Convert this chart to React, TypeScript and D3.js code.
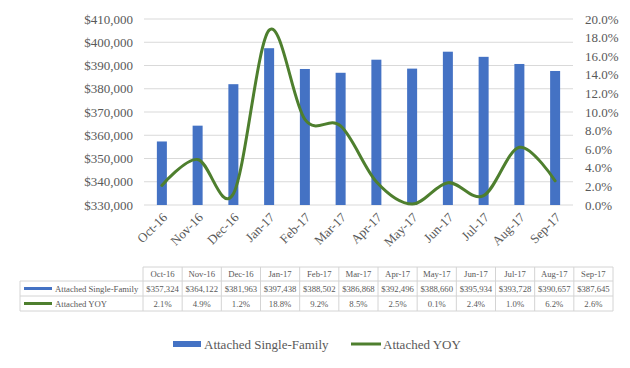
import React from "react";
import * as d3 from "d3";

const months = ["Oct-16", "Nov-16", "Dec-16", "Jan-17", "Feb-17", "Mar-17", "Apr-17", "May-17", "Jun-17", "Jul-17", "Aug-17", "Sep-17"];
const prices = [357324, 364122, 381963, 397438, 388502, 386868, 392496, 388660, 395934, 393728, 390657, 387645];
const yoy = [2.1, 4.9, 1.2, 18.8, 9.2, 8.5, 2.5, 0.1, 2.4, 1.0, 6.2, 2.6];
const leftTicks = [330000, 340000, 350000, 360000, 370000, 380000, 390000, 400000, 410000];
const rightTicks = [0, 2, 4, 6, 8, 10, 12, 14, 16, 18, 20];

const blue = "#4472C4";
const green = "#4E7F2E";
const gray = "#595959";
const font = "Liberation Serif, DejaVu Serif, Times New Roman, serif";

const App = () => {
    const W = 630, H = 368;
    const plot = { left: 144, right: 573, top: 19, bottom: 205 };

    const x = d3.scaleBand().domain(months).range([plot.left, plot.right]).paddingInner(0.72).paddingOuter(0.36);
    const yL = d3.scaleLinear().domain([330000, 410000]).range([plot.bottom, plot.top]);
    const yR = d3.scaleLinear().domain([0, 20]).range([plot.bottom, plot.top]);
    const cx = (m) => x(m) + x.bandwidth() / 2;

    const line = d3.line()
        .x((d, i) => cx(months[i]))
        .y((d) => yR(d))
        .curve(d3.curveCardinal.tension(0));

    const fmtDollar = (v) => "$" + d3.format(",")(v);

    // data table
    const tbl = { left: 20, colStart: 143, right: 613, rows: [267, 281, 296, 311] };
    const col = d3.scaleBand().domain(months).range([tbl.colStart, tbl.right]);
    const tableLine = "#d4d4d4";

    return (
        <div style={{ margin: -8 }}>
            <svg width={W} height={H} fontFamily={font} style={{ display: "block", fontFamily: font }}>
                <rect x={0.5} y={0.5} width={W - 1} height={H - 1} fill="#fff" stroke="#d9d9d9" />

                {/* gridlines */}
                {leftTicks.map((t) => (
                    <line key={t} x1={plot.left} x2={plot.right} y1={yL(t)} y2={yL(t)} stroke="#d9d9d9" strokeWidth={1} />
                ))}

                {/* left axis */}
                {leftTicks.map((t) => (
                    <text key={"l" + t} x={133} y={yL(t)} dy="0.35em" textAnchor="end" fontSize={13} fill={gray}>{fmtDollar(t)}</text>
                ))}

                {/* right axis */}
                {rightTicks.map((t) => (
                    <text key={"r" + t} x={585} y={yR(t)} dy="0.35em" textAnchor="start" fontSize={13} fill={gray}>{t.toFixed(1) + "%"}</text>
                ))}

                {/* bars */}
                {prices.map((v, i) => (
                    <rect key={months[i]} x={x(months[i])} y={yL(v)} width={x.bandwidth()} height={plot.bottom - yL(v)} fill={blue} />
                ))}

                {/* yoy line */}
                <path d={line(yoy)} fill="none" stroke={green} strokeWidth={3} strokeLinecap="round" />

                {/* x labels */}
                {months.map((m) => (
                    <text key={"x" + m} transform={`translate(${cx(m) + 3},${plot.bottom + 10}) rotate(-45)`} textAnchor="end" dy="0.35em" fontSize={13} fill={gray}>{m}</text>
                ))}

                {/* data table */}
                <g fontSize={8.7} fill={gray}>
                    <line x1={tbl.colStart} x2={tbl.right} y1={tbl.rows[0]} y2={tbl.rows[0]} stroke={tableLine} />
                    {tbl.rows.slice(1).map((r) => (
                        <line key={"row" + r} x1={tbl.left} x2={tbl.right} y1={r} y2={r} stroke={tableLine} />
                    ))}
                    <line x1={tbl.left} x2={tbl.left} y1={tbl.rows[1]} y2={tbl.rows[3]} stroke={tableLine} />
                    {months.map((m) => (
                        <line key={"c" + m} x1={col(m)} x2={col(m)} y1={tbl.rows[0]} y2={tbl.rows[3]} stroke={tableLine} />
                    ))}
                    <line x1={tbl.right} x2={tbl.right} y1={tbl.rows[0]} y2={tbl.rows[3]} stroke={tableLine} />

                    {months.map((m, i) => (
                        <g key={"t" + m}>
                            <text x={col(m) + col.bandwidth() / 2} y={(tbl.rows[0] + tbl.rows[1]) / 2} dy="0.35em" textAnchor="middle">{m}</text>
                            <text x={col(m) + col.bandwidth() / 2} y={(tbl.rows[1] + tbl.rows[2]) / 2} dy="0.35em" textAnchor="middle">{fmtDollar(prices[i])}</text>
                            <text x={col(m) + col.bandwidth() / 2} y={(tbl.rows[2] + tbl.rows[3]) / 2} dy="0.35em" textAnchor="middle">{yoy[i].toFixed(1) + "%"}</text>
                        </g>
                    ))}

                    <rect x={24} y={(tbl.rows[1] + tbl.rows[2]) / 2 - 1.5} width={28} height={3} fill={blue} />
                    <text x={55} y={(tbl.rows[1] + tbl.rows[2]) / 2} dy="0.35em">Attached Single-Family</text>
                    <rect x={24} y={(tbl.rows[2] + tbl.rows[3]) / 2 - 1.5} width={28} height={3} fill={green} />
                    <text x={55} y={(tbl.rows[2] + tbl.rows[3]) / 2} dy="0.35em">Attached YOY</text>
                </g>

                {/* legend */}
                <g fontSize={13} fill={gray}>
                    <rect x={173} y={341} width={28} height={6} fill={blue} />
                    <text x={204} y={344} dy="0.35em">Attached Single-Family</text>
                    <line x1={351} x2={381} y1={344} y2={344} stroke={green} strokeWidth={3} />
                    <text x={383} y={344} dy="0.35em">Attached YOY</text>
                </g>
            </svg>
        </div>
    );
};

export default App;
